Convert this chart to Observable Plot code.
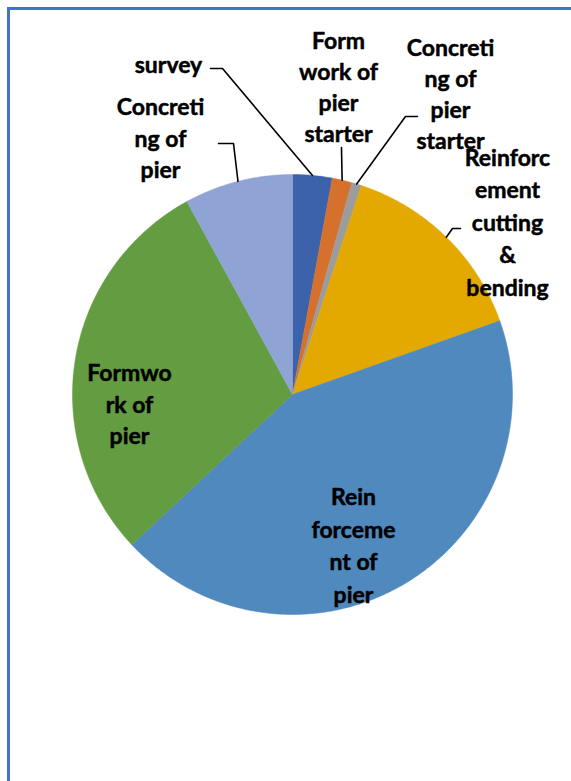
<!DOCTYPE html>
<html>
<head>
<meta charset="utf-8">
<script src="https://cdn.jsdelivr.net/npm/d3@7"></script>
<script src="https://cdn.jsdelivr.net/npm/@observablehq/plot@0.6"></script>
<style>
  html, body { margin: 0; padding: 0; background: #fff; }
  #wrap { position: relative; width: 571px; height: 781px; overflow: hidden; }
  #frame { position: absolute; left: 7px; top: 7px; width: 600px; height: 771px;
           border-left: 3px solid #4472C4; border-top: 3px solid #4472C4;
           border-bottom: 2px solid #CBDAF1; box-sizing: content-box; }
  #chart { position: absolute; left: 0; top: 0; }
</style>
</head>
<body>
<div id="wrap"><div id="frame"></div><div id="chart"></div></div>
<script>
// ---- data ----
const categories = [
  "survey",
  "Form work of pier starter",
  "Concreting of pier starter",
  "Reinforcement cutting & bending",
  "Reinforcement of pier",
  "Formwork of pier",
  "Concreting of pier"
];
const values = [4, 2, 1, 20, 60, 40, 11];
const labelTexts = [
  "survey",
  "Form\nwork of\npier\nstarter",
  "Concreti\nng of\npier\nstarter",
  "Reinforc\nement\ncutting\n&\nbending",
  "Rein\nforceme\nnt of\npier",
  "Formwo\nrk of\npier",
  "Concreti\nng of\npier"
];
const colors = ["#3B62AB", "#D5712D", "#9C9C9C", "#E3A900", "#4F89BE", "#639C41", "#8FA4D5"];

// ---- layout ----
const W = 571, H = 781;
const cx = 292, cy = 394, R = 220;
// label block centers and line heights (em)
const labelPos = [
  [168, 62], [338, 85], [450, 92], [507, 220], [353, 543], [129, 402], [160, 136]
];
const labelLH = [1.36, 1.36, 1.36, 1.41, 1.41, 1.36, 1.36];
// leader points near the label: [textEnd, elbow] (null = no leader)
const leaderPts = [
  [[210, 68], [222, 68]],
  [[341, 147], [341, 148]],
  [[417, 116], [405, 116]],
  [[460, 228], [452, 228]],
  null,
  null,
  [[218, 143], [233, 143]]
];

const data = categories.map((c, i) => ({name: c, value: values[i]}));
const arcs = d3.pie().sort(null).value(d => d.value)(data);
const pt = (a, r) => ({x: cx + r * Math.sin(a), y: cy - r * Math.cos(a)});

const slicePts = [];
arcs.forEach(a => {
  const n = Math.max(2, Math.ceil((a.endAngle - a.startAngle) / (Math.PI / 360)));
  slicePts.push({name: a.data.name, ...pt(0, 0)});
  for (let k = 0; k <= n; k++) {
    const ang = a.startAngle + (a.endAngle - a.startAngle) * k / n;
    slicePts.push({name: a.data.name, ...pt(ang, R)});
  }
  slicePts.push({name: a.data.name, ...pt(0, 0)});
});

const leaders = [];
arcs.forEach((a, i) => {
  if (!leaderPts[i]) return;
  const mid = (a.startAngle + a.endAngle) / 2;
  const e = pt(mid, R);
  leaders.push({id: i, x: leaderPts[i][0][0], y: leaderPts[i][0][1]});
  leaders.push({id: i, x: leaderPts[i][1][0], y: leaderPts[i][1][1]});
  leaders.push({id: i, x: e.x, y: e.y});
});

const labels = labelTexts.map((t, i) => ({text: t, x: labelPos[i][0], y: labelPos[i][1], lh: labelLH[i]}));
const groups = d3.groups(labels, d => d.lh);

const chart = Plot.plot({
  width: W, height: H, margin: 0,
  x: {domain: [0, W], range: [0, W], axis: null},
  y: {domain: [0, H], range: [0, H], axis: null},
  color: {domain: categories, range: colors},
  style: {background: "transparent"},
  marks: [
    Plot.line(slicePts, {x: "x", y: "y", z: "name", fill: "name", stroke: "name", strokeWidth: 0.5, curve: "linear"}),
    Plot.line(leaders, {x: "x", y: "y", z: "id", stroke: "black", strokeWidth: 1.6}),
    ...groups.map(([lh, rows]) => Plot.text(rows, {x: "x", y: "y", text: "text", fill: "black",
      stroke: "black", strokeWidth: 0.5,
      fontSize: 23, fontWeight: "bold", fontFamily: "Lato", lineHeight: lh,
      textAnchor: "middle", lineAnchor: "middle"}))
  ]
});
document.getElementById("chart").appendChild(chart);
</script>
</body>
</html>
